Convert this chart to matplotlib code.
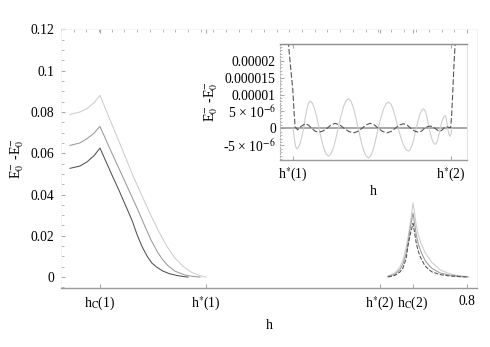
import matplotlib
matplotlib.use("Agg")
import matplotlib.pyplot as plt
from matplotlib.ticker import MultipleLocator, FixedLocator
import numpy as np

plt.rcParams['font.family'] = ['Liberation Serif', 'DejaVu Serif']
plt.rcParams['mathtext.fontset'] = 'stix'

# ---------------- data ----------------
h_c1 = 0.0768
h_s1 = 0.2857
h_s2 = 0.6286
h_c2 = 0.6936
main_xtick_vals = [h_c1, h_s1, h_s2, h_c2, 0.8]
main_xtick_labels = ["h$_{\\mathrm{C}}$(1)", "h$^{*}$(1)", "h$^{*}$(2)", "h$_{\\mathrm{C}}$(2)", "0.8"]
main_ytick_vals = [0, 0.02, 0.04, 0.06, 0.08, 0.1, 0.12]
main_ytick_labels = ["0", "0.02", "0.04", "0.06", "0.08", "0.1", "0.12"]

# left branch (h < h*(1))
light_h = [0.0177, 0.0374, 0.0512, 0.0650, 0.0768, 0.0966, 0.1163, 0.1419, 0.1754, 0.1911,
           0.2089, 0.2246, 0.2404, 0.2581, 0.2739, 0.2857]
light_E = [0.0788, 0.0800, 0.0816, 0.0845, 0.0880, 0.0762, 0.0645, 0.0490, 0.0308, 0.0228,
           0.0148, 0.0092, 0.0052, 0.0022, 0.0007, 0.0]
mid_h = [0.0177, 0.0374, 0.0512, 0.0650, 0.0768, 0.0985, 0.1202, 0.1517, 0.1650, 0.1773,
         0.1900, 0.2000, 0.2108, 0.2250, 0.2443, 0.2600, 0.2739]
mid_E = [0.0638, 0.0650, 0.0671, 0.0697, 0.0730, 0.0610, 0.0494, 0.0324, 0.0248, 0.0180,
         0.0122, 0.0085, 0.0055, 0.0028, 0.0010, 0.0003, 0.0]
dark_h = [0.0177, 0.0374, 0.0512, 0.0650, 0.0768, 0.1005, 0.1143, 0.1399, 0.1500, 0.1596,
          0.1700, 0.1790, 0.1887, 0.2000, 0.2140, 0.2280, 0.2400, 0.2502]
dark_E = [0.0527, 0.0538, 0.0558, 0.0588, 0.0625, 0.0494, 0.0420, 0.0275, 0.0205, 0.0148,
          0.0100, 0.0068, 0.0048, 0.0030, 0.0016, 0.0008, 0.0003, 0.0]

# right branch (peak at h_C(2))
peak_h = [0.644, 0.658, 0.668, 0.674, 0.680, 0.684, 0.688, 0.691, 0.6936, 0.697, 0.700,
          0.704, 0.709, 0.717, 0.723, 0.731, 0.747, 0.767, 0.786, 0.802]
peak_dark = [0.0, 0.0008, 0.0025, 0.0045, 0.0090, 0.0155, 0.0205, 0.0235, 0.0260, 0.0210,
             0.0165, 0.0125, 0.0092, 0.0055, 0.0040, 0.0025, 0.0012, 0.0005, 0.0002, 0.0]
peak_mid = [0.0003, 0.0013, 0.0037, 0.0065, 0.0115, 0.0170, 0.0235, 0.0275, 0.0310, 0.0255,
            0.0205, 0.0160, 0.0125, 0.0082, 0.0062, 0.0042, 0.0020, 0.0009, 0.0004, 0.0001]
peak_light = [0.0005, 0.0020, 0.0050, 0.0085, 0.0145, 0.0195, 0.0260, 0.0310, 0.0360, 0.0305,
              0.0250, 0.0205, 0.0165, 0.0120, 0.0098, 0.0070, 0.0035, 0.0015, 0.0006, 0.0002]

# inset: values in units of 1e-6
inset_light_h = [0.2860, 0.2880, 0.2900, 0.2921, 0.2940, 0.2977, 0.3014, 0.3051, 0.3088,
                 0.3123, 0.3159, 0.3194, 0.3229, 0.3278, 0.3327, 0.3376, 0.3424,
                 0.3474, 0.3525, 0.3576, 0.3626, 0.3678, 0.3732, 0.3785, 0.3837,
                 0.3893, 0.3949, 0.4004, 0.4061, 0.4113, 0.4166, 0.4219, 0.4271,
                 0.4328, 0.4383, 0.4438, 0.4495, 0.4547, 0.4600, 0.4653, 0.4705,
                 0.4762, 0.4817, 0.4872, 0.4929, 0.4981, 0.5034, 0.5087, 0.5139,
                 0.5196, 0.5251, 0.5307, 0.5363, 0.5404, 0.5447, 0.5489, 0.5530,
                 0.5569, 0.5609, 0.5650, 0.5689, 0.5719, 0.5751, 0.5782, 0.5812,
                 0.5845, 0.5878, 0.5910, 0.5943, 0.5970, 0.5997, 0.6024, 0.6051,
                 0.6078, 0.6105, 0.6133, 0.6160, 0.6173, 0.6187, 0.6201, 0.6214,
                 0.6227, 0.6241, 0.6255, 0.6268, 0.6277, 0.6285, 0.6292, 0.6301]
inset_light_v = [0.0, -2.3, -4.3, -5.5, -6.0, -5.5, -4.3, -2.3, 0.0,
                 3.1, 5.75, 7.45, 8.1, 7.45, 5.75, 3.1, 0.0,
                 -3.1, -5.8, -7.55, -8.2, -7.55, -5.8, -3.1, 0.0,
                 3.35, 6.25, 8.1, 8.8, 8.1, 6.25, 3.35, 0.0,
                 -3.3, -6.2, -8.0, -8.7, -8.0, -6.2, -3.3, 0.0,
                 2.95, 5.55, 7.2, 7.8, 7.2, 5.55, 2.95, 0.0,
                 -2.55, -4.75, -6.15, -6.7, -6.15, -4.75, -2.55, 0.0,
                 2.2, 4.1, 5.35, 5.8, 5.35, 4.1, 2.2, 0.0,
                 -1.8, -3.35, -4.3, -4.7, -4.3, -3.35, -1.8, 0.0,
                 1.45, 2.7, 3.5, 3.8, 3.5, 2.7, 1.45, 0.0,
                 -0.9, -1.65, -2.1, -2.3, -2.1, -1.65, -0.9, 0.0]
inset_dark_h = [0.2741, 0.2758, 0.2806, 0.2853, 0.2882, 0.2903, 0.2958, 0.3034, 0.3121, 0.3192,
                0.3266, 0.3338, 0.3409, 0.3500, 0.3592, 0.3683, 0.3772, 0.3872, 0.3971, 0.4071,
                0.4169, 0.4260, 0.4351, 0.4443, 0.4532, 0.4623, 0.4712, 0.4803, 0.4894, 0.4985,
                0.5074, 0.5165, 0.5255, 0.5335, 0.5417, 0.5500, 0.5580, 0.5645, 0.5708, 0.5769,
                0.5834, 0.5888, 0.5943, 0.5997, 0.6051, 0.6088, 0.6123, 0.6160, 0.6197, 0.6236,
                0.6279, 0.6301, 0.6327, 0.6355, 0.6377, 0.6388]
inset_dark_v = [28, 25, 18, 11.5, 4.5, 0.5, -0.4, 0.6, 1.4, 1.0,
                0.0, -0.8, -1.1, -0.8, 0.0, 1.05, 1.5, 1.05, 0.0, -0.9,
                -1.3, -0.9, 0.0, 1.05, 1.5, 1.05, 0.0, -0.9, -1.3, -0.9,
                0.0, 1.0, 1.4, 1.0, 0.0, -0.8, -1.1, -0.8, 0.0, 0.5,
                0.7, 0.5, 0.0, -0.55, -0.8, -0.55, 0.0, 0.35, 0.5, 0.3,
                0.3, 4, 11.5, 20, 25, 28]
inset_ytick_vals = [-5e-6, 0, 5e-6, 1e-5, 1.5e-5, 2e-5]
inset_ytick_labels = ["-5 × 10$^{-6}$", "0", "5 × 10$^{-6}$", "0.00001", "0.000015", "0.00002"]
inset_xtick_vals = [h_s1, h_s2]
inset_xtick_labels = ["h$^{*}$(1)", "h$^{*}$(2)"]

ylabel_text = "E$_0^{-}$ -E$_0^{-}$"

c_dark = '#505050'
c_mid = '#9a9a9a'
c_light = '#cdcdcd'

fig = plt.figure(figsize=(4.9, 3.47), dpi=100)
ax = fig.add_axes([0.1245, 0.170, 0.849, 0.7464])

ax.plot(light_h, light_E, color=c_light, lw=0.75)
ax.plot(mid_h, mid_E, color=c_mid, lw=0.75)
ax.plot(dark_h, dark_E, color=c_dark, lw=0.75)
ax.plot(peak_h, peak_light, color=c_light, lw=0.75)
ax.plot(peak_h, peak_mid, color=c_mid, lw=0.75)
ax.plot(peak_h, peak_dark, color=c_dark, lw=0.75, dashes=(4, 1.5))

ax.set_xlim(0.0, 0.8197)
ax.set_ylim(-0.0053, 0.1202)
ax.set_xticks(main_xtick_vals)
ax.set_xticklabels(main_xtick_labels)
ax.set_yticks(main_ytick_vals)
ax.set_yticklabels(main_ytick_labels)
ax.yaxis.set_minor_locator(MultipleLocator(0.005))
ax.tick_params(axis='both', which='both', direction='in', color='#aaaaaa', labelsize=9.8)
ax.tick_params(axis='y', which='major', length=3, pad=5)
ax.tick_params(axis='y', which='minor', length=2)
ax.tick_params(axis='x', which='major', length=3, pad=5)
ax.tick_params(top=True, which='both')
ax.xaxis.set_minor_locator(FixedLocator(list(np.arange(0.0, 0.82, 0.025))))
ax.tick_params(axis='x', which='minor', bottom=False, top=True, length=2)
for s in ['left', 'top', 'right']:
    ax.spines[s].set_color('#f0f0f0')
    ax.spines[s].set_linewidth(0.5)
ax.spines['bottom'].set_color('#999999')
ax.spines['bottom'].set_linewidth(1.0)
ax.set_xlabel("h", fontsize=10, labelpad=4)
ax.set_ylabel(ylabel_text, fontsize=10, labelpad=3)

# inset
ins = fig.add_axes([0.5714, 0.5389, 0.3816, 0.3343])
ins.axhline(0, color='#9a9a9a', lw=1.2)
ins.plot(inset_light_h, np.array(inset_light_v) * 1e-6, color=c_light, lw=0.8)
ins.plot(inset_dark_h, np.array(inset_dark_v) * 1e-6, color='#555555', lw=0.8, dashes=(5, 2))
ins.set_xlim(0.2575, 0.6633)
ins.set_ylim(-9.3e-6, 2.49e-5)
ins.set_xticks(inset_xtick_vals)
ins.set_xticklabels(inset_xtick_labels)
ins.set_yticks(inset_ytick_vals)
ins.set_yticklabels(inset_ytick_labels)
ins.yaxis.set_minor_locator(MultipleLocator(1e-6))
ins.tick_params(axis='both', which='both', direction='in', color='#aaaaaa', labelsize=9.8)
ins.tick_params(axis='y', which='major', length=3, pad=3)
ins.tick_params(axis='y', which='minor', length=1.5)
ins.tick_params(axis='x', which='major', length=3, pad=4, top=True)
ins.patch.set_alpha(0.0)
ins.spines['left'].set_color('#b0b0b0')
ins.spines['left'].set_linestyle(':')
ins.spines['left'].set_linewidth(0.8)
ins.spines['top'].set_color('#8c8c8c')
ins.spines['top'].set_linewidth(1.0)
ins.spines['bottom'].set_color('#9a9a9a')
ins.spines['bottom'].set_linewidth(1.0)
ins.spines['right'].set_color('#dddddd')
ins.spines['right'].set_linewidth(0.6)
ins.set_xlabel("h", fontsize=10, labelpad=1)
ins.set_ylabel(ylabel_text, fontsize=10, labelpad=2)

fig.savefig("out.png", dpi=100)
